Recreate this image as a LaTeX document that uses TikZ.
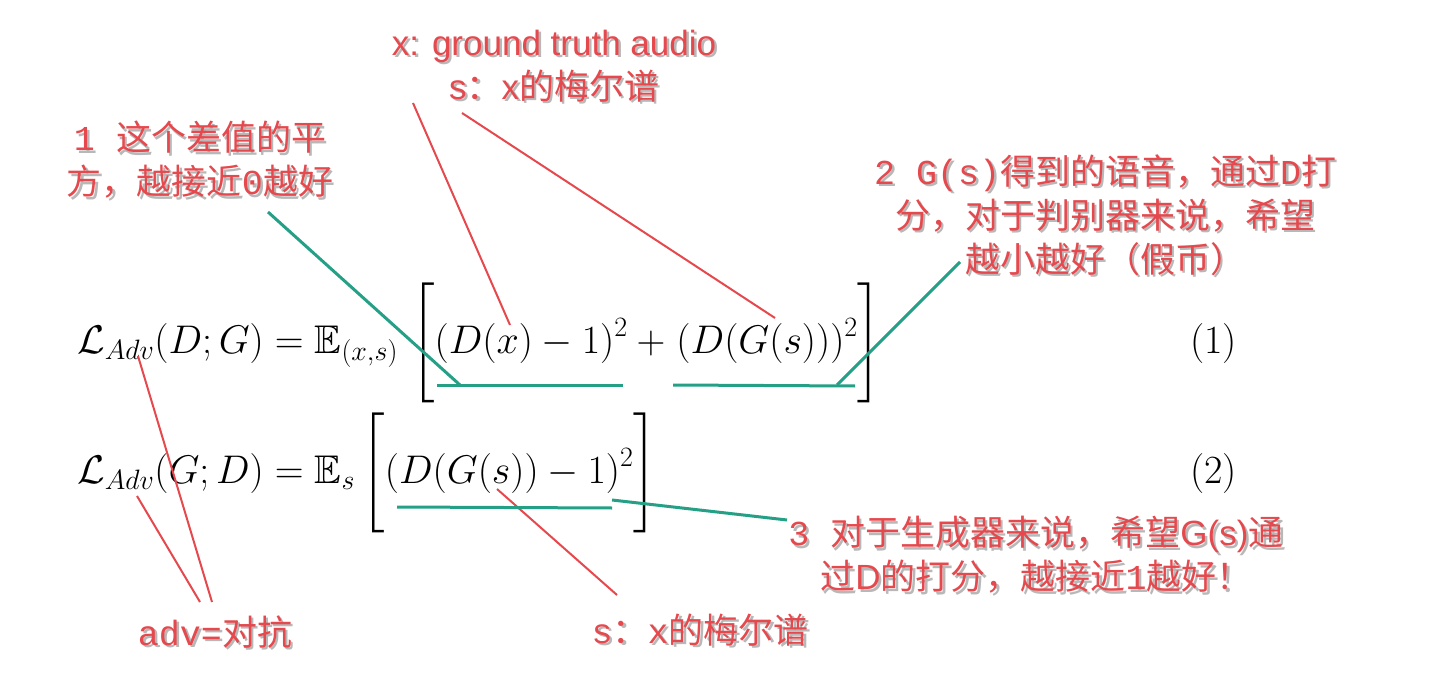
\RequirePackage{fix-cm}
\documentclass[tikz,border=0pt]{standalone}
\usepackage{amsmath,amssymb}
\usepackage{fontspec}
\usetikzlibrary{calc}
\newfontfamily\cjk{Noto Sans CJK SC}
\newfontfamily\arialf{Liberation Sans}
\newfontfamily\monof{Liberation Mono}
\definecolor{lblred}{HTML}{E5484D}
\definecolor{tealline}{HTML}{25A087}
\tikzset{
  lbl/.style={text=lblred, font=\cjk\fontsize{35}{44}\selectfont, align=center, inner sep=0pt},
  shd/.style={lbl, text=black!28},
  redline/.style={draw=lblred, line width=2pt},
  greenline/.style={draw=tealline, line width=3pt},
  eq/.style={anchor=base west, inner sep=0pt, font=\fontsize{40}{48}\selectfont},
}
\newcommand\redlabel[4]{%
  \node[shd,#3] (#1-sh) at ($(#2)+(2.5,2.5)$) {#4};
  \node[lbl,#3] (#1) at (#2) {#4};}
\delimiterfactor=1000
\delimitershortfall=0pt
\begin{document}
\begin{tikzpicture}[x=1pt,y=-1pt]
\useasboundingbox (0,0) rectangle (1450,684);
% equations
\node[eq] (eq1) at (77,353) {$\displaystyle\mathcal{L}_{Adv}(D;G) = \mathbb{E}_{(x,s)}\,\left[\rule[-1.04em]{0pt}{2.58em}(D(x)-1)^2+\mkern1mu(D(G(s)))^2\right]$};
\node[eq] (eq2) at (77,483) {$\displaystyle\mathcal{L}_{Adv}(G;D) = \mathbb{E}_{s}\left[\rule[-1.12em]{0pt}{2.74em}(D(G(s))-1)^2\right]$};
\node[eq] (n1) at (1190,353) {(1)};
\node[eq] (n2) at (1190,483) {(2)};
% labels
\redlabel{top}{554,66}{}{{\arialf x: ground truth audio}\\{\arialf s}：{\arialf x}的梅尔谱}
\redlabel{one}{200,160}{}{{\monof 1 }这个差值的平\\方，越接近{\monof 0}越好}
\redlabel{two}{1105,215}{}{{\monof 2 G(s)}得到的语音，通过{\monof D}打\\分，对于判别器来说，希望\\越小越好（假币）}
\redlabel{three}{1036,555}{}{{\monof 3 }对于生成器来说，希望{\arialf G(s)}通\\过{\arialf D}的打分，越接近{\monof 1}越好！}
\redlabel{adv}{215,632}{}{{\monof adv=}对抗}
\redlabel{mel}{700,630}{}{{\monof s}：{\monof x}的梅尔谱}
% anchor points
\coordinate (xs) at (413,103);
\coordinate (xe) at (510,325);
\coordinate (ss) at (462,113);
\coordinate (se) at (775,318);
\coordinate (a1) at (138,356);
\coordinate (a2) at (137,496);
\coordinate (aa) at (212,602);
\coordinate (ab) at (200,602);
\coordinate (m1) at (497,489);
\coordinate (m2) at (617,595);
\coordinate (u1a) at (437,385);
\coordinate (u1b) at (623,385);
\coordinate (u2a) at (673,385);
\coordinate (u2b) at (855,386);
\coordinate (g1s) at (268,212);
\coordinate (g1e) at (460,385);
\coordinate (g2s) at (960,262);
\coordinate (g2e) at (837,385);
\coordinate (u3a) at (397,507);
\coordinate (u3b) at (612,508);
\coordinate (g3s) at (612,500);
\coordinate (g3e) at (787,520);
% red connectors
\draw[redline] (xs) -- (xe);
\draw[redline] (ss) -- (se);
\draw[redline] (a1) -- (aa);
\draw[redline] (a2) -- (ab);
\draw[redline] (m1) -- (m2);
% green connectors
\draw[greenline] (u1a) -- (u1b);
\draw[greenline] (u2a) -- (u2b);
\draw[greenline] (g1s) -- (g1e);
\draw[greenline] (g2s) -- (g2e);
\draw[greenline] (u3a) -- (u3b);
\draw[greenline] (g3s) -- (g3e);
\end{tikzpicture}
\end{document}
